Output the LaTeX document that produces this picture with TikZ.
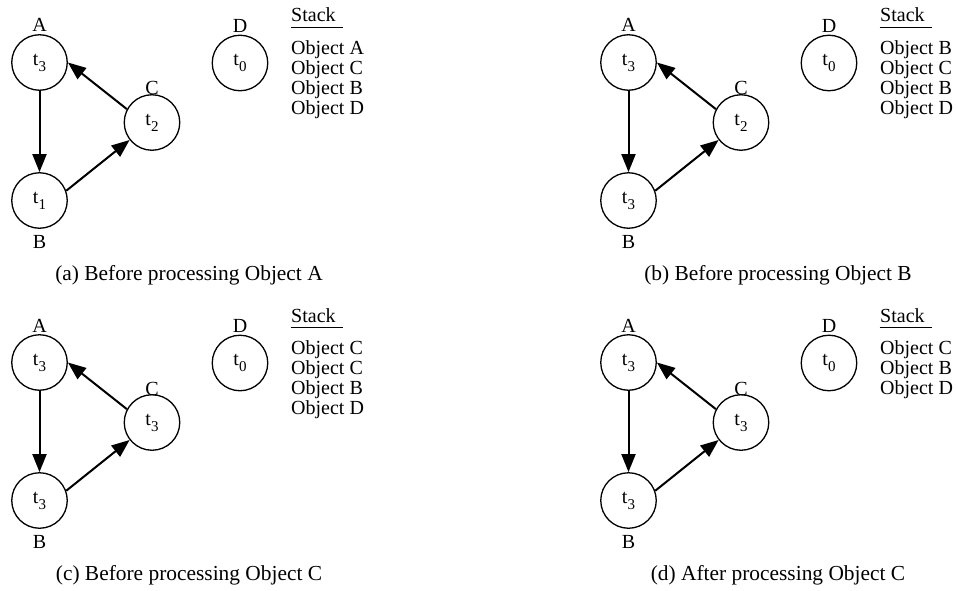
\documentclass[tikz,border=0pt]{standalone}
\usepackage{fontspec}
\setmainfont{Liberation Serif}
\usetikzlibrary{arrows.meta}
\newcommand\sub[1]{\raisebox{-0.3em}{\fontsize{15}{15}\selectfont #1}}
\tikzset{
  state/.style={circle,draw,line width=1.3pt,minimum size=55.5pt,inner sep=0pt,font=\fontsize{20}{20}\selectfont},
  lbl/.style={anchor=base,inner sep=0pt,font=\fontsize{20}{20}\selectfont},
  stackitem/.style={anchor=base west,inner sep=0pt,font=\fontsize{20}{20}\selectfont},
  edgearrow/.style={line width=2pt,-{Triangle[length=18pt,width=14pt]}},
  underline/.style={line width=1.3pt},
  captxt/.style={anchor=base,inner sep=0pt,font=\fontsize{21.4}{22}\selectfont},
}
\newcommand\drawpanel[8]{%
  \begin{scope}[shift={(#2,#3)}]
    \node[state] (#1A) at (39.5,62.5) {t\sub{#4}};
    \node[state] (#1B) at (39.5,200.5) {t\sub{#5}};
    \node[state] (#1C) at (152,122.5) {t\sub{#6}};
    \node[state] (#1D) at (240,63) {t\sub{0}};
    \node[lbl] (#1lA) at (39.5,32) {A};
    \node[lbl] (#1lB) at (39.5,248) {B};
    \node[lbl] (#1lC) at (152,95) {C};
    \node[lbl] (#1lD) at (240,32.5) {D};
    \draw[edgearrow] (#1A.south) -- (#1B.north);
    \draw[edgearrow] (#1C.152) -- (#1A.east);
    \draw[edgearrow] (#1B.20) -- (#1C.218);
    \node[stackitem] (#1st) at (291,22) {Stack};
    \coordinate (#1u1) at (290.7,27.3);
    \coordinate (#1u2) at (342.7,27.3);
    \draw[underline] (#1u1) -- (#1u2);
    \foreach \s [count=\i] in {#8} {
      \node[stackitem] (#1s\i) at (291,{54.3+20.2*(\i-1)}) {\s};
    }
    \node[captxt] (#1cap) at (189,280) {#7};
  \end{scope}}
\begin{document}
\begin{tikzpicture}[x=1pt,y=-1pt]
  \useasboundingbox (0,0) rectangle (958,591);
  \drawpanel{a}{0}{0}{3}{1}{2}{(a) Before processing Object A}{Object A,Object C,Object B,Object D}
  \drawpanel{b}{589}{0}{3}{3}{2}{(b) Before processing Object B}{Object B,Object C,Object B,Object D}
  \drawpanel{c}{0}{300}{3}{3}{3}{(c) Before processing Object C}{Object C,Object C,Object B,Object D}
  \drawpanel{d}{589}{300}{3}{3}{3}{(d) After processing Object C}{Object C,Object B,Object D}
\end{tikzpicture}
\end{document}
